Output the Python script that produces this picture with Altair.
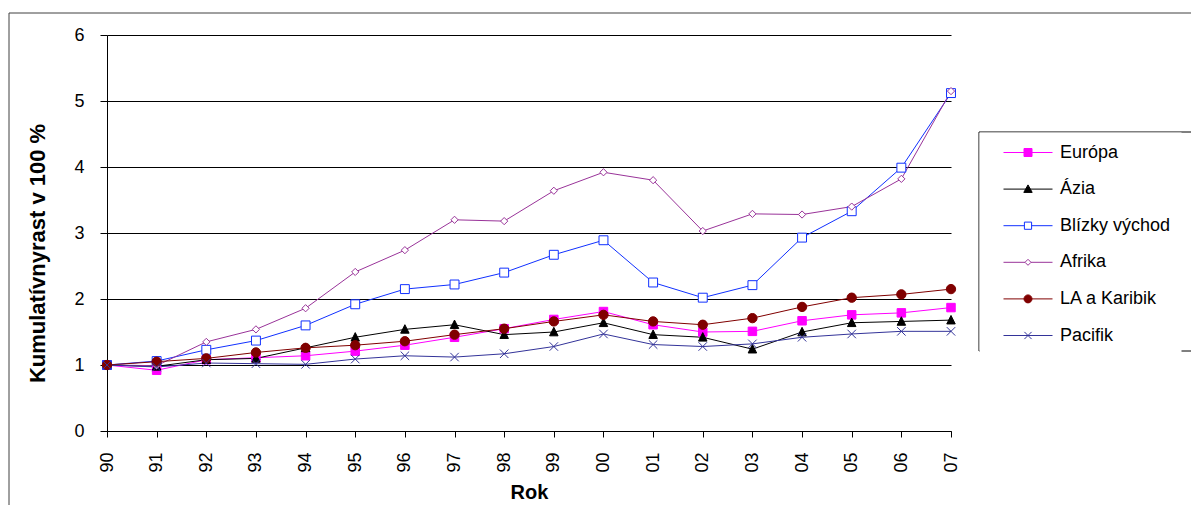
import altair as alt
import pandas as pd

years = ["90", "91", "92", "93", "94", "95", "96", "97", "98", "99",
         "00", "01", "02", "03", "04", "05", "06", "07"]
series_names = ["Európa", "Ázia", "Blízky východ", "Afrika", "LA a Karibik", "Pacifik"]

europa = [1.00, 0.92, 1.08, 1.11, 1.14, 1.21, 1.30, 1.42, 1.55, 1.69, 1.81, 1.61, 1.50, 1.51, 1.67, 1.76, 1.79, 1.87]
azia = [1.00, 0.98, 1.08, 1.10, 1.26, 1.42, 1.54, 1.61, 1.46, 1.50, 1.64, 1.46, 1.42, 1.24, 1.50, 1.64, 1.66, 1.68]
blizky_vychod = [1.00, 1.06, 1.23, 1.37, 1.60, 1.92, 2.15, 2.22, 2.40, 2.67, 2.89, 2.25, 2.02, 2.21, 2.93, 3.33, 3.99, 5.12]
afrika = [1.00, 0.99, 1.35, 1.54, 1.86, 2.41, 2.74, 3.20, 3.18, 3.64, 3.92, 3.80, 3.03, 3.29, 3.28, 3.40, 3.82, 5.15]
la_karibik = [1.00, 1.05, 1.10, 1.19, 1.26, 1.30, 1.36, 1.46, 1.55, 1.66, 1.76, 1.66, 1.61, 1.71, 1.88, 2.02, 2.07, 2.15]
pacifik = [1.00, 0.97, 1.03, 1.02, 1.01, 1.09, 1.14, 1.12, 1.17, 1.28, 1.47, 1.31, 1.28, 1.32, 1.42, 1.47, 1.51, 1.51]

y_ticks = [0, 1, 2, 3, 4, 5, 6]

line_colors = ["#FF00FF", "#000000", "#1030FF", "#993399", "#800000", "#333399"]
fill_colors = ["#FF00FF", "#000000", "#FFFFFF", "#FFFFFF", "#800000", "transparent"]

marker_paths = [
    "M-1,-1H1V1H-1Z",
    "M0,-1.1L1,0.9H-1Z",
    "M-1.05,-1.05H1.05V1.05H-1.05Z",
    "M0,-0.85L0.85,0L0,0.85L-0.85,0Z",
    "M1.1,0A1.1,1.1,0,1,1,-1.1,0A1.1,1.1,0,1,1,1.1,0Z",
    "M-1,-1L1,1M-1,1L1,-1",
]
legend_paths = [
    "M-2.45,0H2.45M-0.4,-0.4H0.4V0.4H-0.4Z",
    "M-2.45,0H2.45M0,-0.42L0.42,0.33H-0.42Z",
    "M-2.45,0H-0.36M0.36,0H2.45M-0.36,-0.36H0.36V0.36H-0.36Z",
    "M-2.45,0H-0.3M0.3,0H2.45M0,-0.3L0.3,0L0,0.3L-0.3,0Z",
    "M-2.45,0H2.45M0.4,0A0.4,0.4,0,1,1,-0.4,0A0.4,0.4,0,1,1,0.4,0Z",
    "M-2.45,0H2.45M-0.36,-0.36L0.36,0.36M-0.36,0.36L0.36,-0.36",
]

rows = []
for name, vals in zip(series_names, [europa, azia, blizky_vychod, afrika, la_karibik, pacifik]):
    for yr, v in zip(years, vals):
        rows.append({"series": name, "year": yr, "value": v})
df = pd.DataFrame(rows)

FONT = "Liberation Sans"

x_enc = alt.X(
    "year:O", sort=years,
    scale=alt.Scale(type="point", padding=0),
    axis=alt.Axis(labelAngle=-90, labelFontSize=18, labelFont=FONT, labelColor="black",
                  tickSize=6, tickColor="black", domainColor="black", labelPadding=15,
                  titleFontSize=20, titleFont=FONT, titleFontWeight="bold", titleColor="black",
                  titlePadding=10, grid=False),
    title="Rok",
)
y_enc = alt.Y(
    "value:Q",
    scale=alt.Scale(domain=[0, 6]),
    axis=alt.Axis(values=y_ticks, grid=True, gridColor="black", gridWidth=1,
                  domainColor="black", tickColor="black", tickSize=7,
                  labelFontSize=18, labelFont=FONT, labelColor="black", labelPadding=16,
                  titleFontSize=22, titleFont=FONT, titleFontWeight="bold", titleColor="black",
                  titleX=-58, titleY=218, titleAlign="center"),
    title="Kumulatívnyrast v 100 %",
)

stroke_scale = alt.Scale(domain=series_names, range=line_colors)
fill_scale = alt.Scale(domain=series_names, range=fill_colors)

lines = alt.Chart(df).mark_line(strokeWidth=1).encode(
    x=x_enc, y=y_enc,
    stroke=alt.Stroke("series:N", scale=stroke_scale, legend=None),
)

points = alt.Chart(df).mark_point(size=72, opacity=1, strokeWidth=1, filled=True).encode(
    x=x_enc, y=y_enc,
    shape=alt.Shape("series:N", scale=alt.Scale(domain=series_names, range=marker_paths), legend=None),
    fill=alt.Fill("series:N", scale=fill_scale, legend=None),
    stroke=alt.Stroke("series:N", scale=stroke_scale, legend=None),
)

legend_obj = alt.Legend(
    orient="none", legendX=872, legendY=97, padding=10, strokeColor="transparent",
    fillColor="white", labelFont=FONT, labelFontSize=18, labelColor="black",
    labelOffset=21.5, symbolOffset=28.5, rowPadding=16.6, symbolSize=400,
    symbolStrokeWidth=1, title=None,
)

legend_layer = alt.Chart(df).transform_filter("datum.value > 100").mark_point(
    size=400, opacity=1, strokeWidth=1, filled=True
).encode(
    x=x_enc, y=y_enc,
    shape=alt.Shape("series:N", scale=alt.Scale(domain=series_names, range=legend_paths), legend=legend_obj),
    fill=alt.Fill("series:N", scale=fill_scale, legend=legend_obj),
    stroke=alt.Stroke("series:N", scale=stroke_scale, legend=legend_obj),
)

one = alt.Data(values=[{}])
border_left = alt.Chart(one).mark_rule(color="#404040", strokeWidth=1).encode(
    x=alt.value(-98), y=alt.value(-22), y2=alt.value(470)
)
border_top = alt.Chart(one).mark_rule(color="#404040", strokeWidth=1).encode(
    x=alt.value(-98), x2=alt.value(1084), y=alt.value(-22)
)
legend_box_left = alt.Chart(one).mark_rule(color="black", strokeWidth=1).encode(
    x=alt.value(872), y=alt.value(97), y2=alt.value(316)
)
legend_box_top = alt.Chart(one).mark_rule(color="black", strokeWidth=1).encode(
    x=alt.value(872), x2=alt.value(1084), y=alt.value(97)
)
legend_box_bottom = alt.Chart(one).mark_rule(color="black", strokeWidth=1).encode(
    x=alt.value(872), x2=alt.value(1084), y=alt.value(316)
)

chart = alt.layer(
    border_left, border_top, lines, points, legend_layer,
    legend_box_left, legend_box_top, legend_box_bottom,
).resolve_scale(
    shape="independent", fill="independent", stroke="independent"
).properties(
    width=844, height=396,
    padding={"left": 0, "top": 4, "right": 0, "bottom": 0},
    background="white",
).configure_view(strokeWidth=0)

chart.save("out.html", embed_options={"renderer": "svg", "actions": False})
